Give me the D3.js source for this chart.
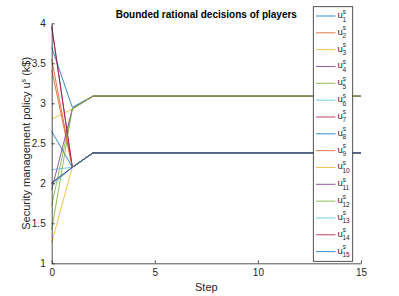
<!DOCTYPE html>
<html>
<head>
<meta charset="utf-8">
<script src="https://cdn.jsdelivr.net/npm/d3@7"></script>
<style>
  body { margin: 0; background: #fff; }
  text { font-family: "Liberation Sans", Arial, sans-serif; fill: #262626; }
</style>
</head>
<body>
<svg id="chart"></svg>
<script>
var width = 399, height = 296;

// steps on the x axis
var steps = [0, 1, 2, 3, 4, 5, 6, 7, 8, 9, 10, 11, 12, 13, 14, 15];

// start value of each player, value after step 1, value from step 2 on
var startValues = [3.70, 3.55, 2.80, 3.95, 1.72, 2.17, 3.97, 2.65, 3.42, 1.26, 1.92, 1.42, 1.97, 2.00, 2.01];
var step1Values = [2.95, 2.20, 2.93, 2.20, 2.93, 2.20, 2.20, 2.20, 2.20, 2.20, 2.93, 2.93, 2.20, 2.20, 2.20];
var finalValues = [3.09, 2.38, 3.09, 2.38, 3.09, 2.38, 2.38, 2.38, 2.38, 2.38, 3.09, 3.09, 2.38, 2.38, 2.38];

var colors = ["#0072BD", "#D95319", "#EDB120", "#7E2F8E", "#77AC30", "#4DBEEE", "#A2142F"];

var xTicks = [0, 5, 10, 15];
var yTicks = [1, 1.5, 2, 2.5, 3, 3.5, 4];

var svg = d3.select("#chart")
    .attr("width", width)
    .attr("height", height);

var x = d3.scaleLinear().domain([0, 15]).range([51.7, 361]);
var y = d3.scaleLinear().domain([1, 4]).range([263.3, 23.3]);

// build one series per player
var series = startValues.map(function(s, i) {
    return steps.map(function(st) {
        if (st == 0) return [st, s];
        if (st == 1) return [st, step1Values[i]];
        return [st, finalValues[i]];
    });
});

var line = d3.line()
    .x(function(d) { return x(d[0]); })
    .y(function(d) { return y(d[1]); });

svg.selectAll("path.player").data(series).enter().append("path")
    .attr("class", "player")
    .attr("d", line)
    .attr("fill", "none")
    .attr("stroke", function(d, i) { return colors[i % 7]; })
    .attr("stroke-width", 0.8);

// axes
var xAxis = d3.axisBottom(x).tickValues(xTicks).tickSizeInner(-3).tickSizeOuter(0).tickPadding(6);
var yAxis = d3.axisLeft(y).tickValues(yTicks).tickSizeInner(-3).tickSizeOuter(0).tickPadding(6)
    .tickFormat(d3.format("~g"));

var gx = svg.append("g").attr("transform", "translate(0," + y(1) + ")").call(xAxis);
var gy = svg.append("g").attr("transform", "translate(" + x(0) + ",0)").call(yAxis);

[gx, gy].forEach(function(g) {
    g.select(".domain").attr("stroke", "#262626").attr("stroke-width", 0.8);
    g.selectAll(".tick line").attr("stroke", "#262626").attr("stroke-width", 0.8);
    g.selectAll(".tick text").attr("font-size", 10).style("fill", "#262626")
        .style("font-family", "Liberation Sans, Arial, sans-serif");
});

// title
svg.append("text")
    .attr("x", (x(0) + x(15)) / 2)
    .attr("y", 18)
    .attr("text-anchor", "middle")
    .attr("font-size", 10)
    .attr("font-weight", "bold")
    .style("fill", "#000")
    .text("Bounded rational decisions of players");

// x label
svg.append("text")
    .attr("x", (x(0) + x(15)) / 2)
    .attr("y", 291)
    .attr("text-anchor", "middle")
    .attr("font-size", 11)
    .text("Step");

// y label
var yl = svg.append("text")
    .attr("transform", "translate(30," + ((y(1) + y(4)) / 2) + ") rotate(-90)")
    .attr("text-anchor", "middle")
    .attr("font-size", 11);
yl.append("tspan").text("Security management policy u");
yl.append("tspan").attr("font-size", 7).attr("dy", -4).text("s");
yl.append("tspan").attr("dy", 4).text(" (k$)");

// legend
var legend = svg.append("g");
legend.append("rect")
    .attr("x", 313.3).attr("y", 6.7)
    .attr("width", 39.4).attr("height", 254.6)
    .attr("fill", "#fff")
    .attr("stroke", "#262626")
    .attr("stroke-width", 0.8);

var entries = legend.selectAll("g.entry").data(startValues).enter().append("g")
    .attr("class", "entry")
    .attr("transform", function(d, i) { return "translate(0," + (16 + i * 16.83) + ")"; });

entries.append("line")
    .attr("x1", 316).attr("x2", 335.5)
    .attr("y1", 0).attr("y2", 0)
    .attr("stroke", function(d, i) { return colors[i % 7]; })
    .attr("stroke-width", 0.8);

var lt = entries.append("text")
    .attr("x", 337.5)
    .attr("y", 2)
    .attr("font-size", 9.5);
lt.append("tspan").text("u");
lt.append("tspan").attr("font-size", 6.5).attr("dy", -4.5).text("s");
lt.append("tspan").attr("font-size", 6.5).attr("dx", -3.6).attr("dy", 8)
    .text(function(d, i) { return i + 1; });
</script>
</body>
</html>
